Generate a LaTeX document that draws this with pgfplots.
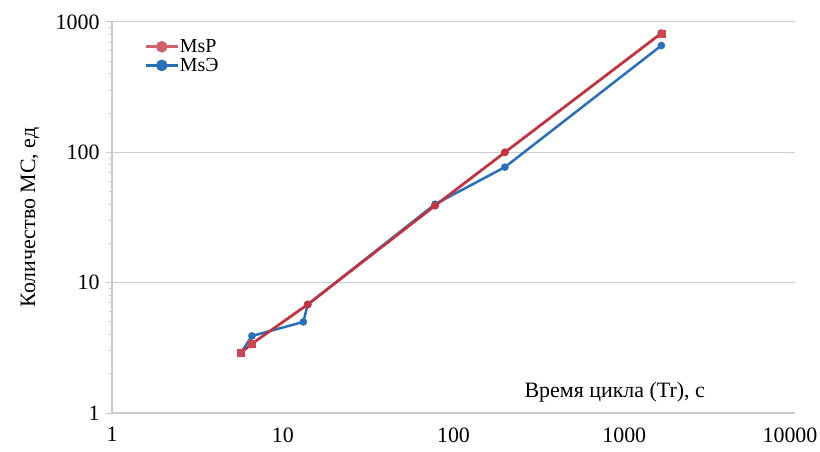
\documentclass[border=0pt]{standalone}
\usepackage{pgfplots}
\pgfplotsset{compat=1.18}
\usepackage{fontspec}
\setmainfont{Liberation Serif}
\definecolor{cred}{RGB}{200,48,60}
\definecolor{cpink}{RGB}{208,98,110}
\definecolor{cblue}{RGB}{40,112,185}
\definecolor{cgrid}{RGB}{200,203,210}
\begin{document}
\begin{tikzpicture}
\useasboundingbox (0,0) rectangle (820bp,452bp);
\begin{axis}[
  at={(112bp,39bp)}, anchor=south west,
  scale only axis, width=683bp, height=391bp,
  xmode=log, ymode=log,
  xmin=1, xmax=10000, ymin=1, ymax=1000,
  xtick={1,10,100,1000,10000}, xticklabels={1,10,100,1000,{10000\hspace*{10bp}}},
  ytick={1,10,100,1000}, yticklabels={1,10,100,1000},
  minor tick num=0, minor xtick={}, minor ytick={},
  axis x line*=bottom, axis y line*=left,
  axis line style={cgrid, line width=1.2bp, -},
  x axis line style={-}, y axis line style={-},
  ymajorgrids, major grid style={cgrid, line width=1bp},
  major tick length=6bp,
  xtick style={draw=none},
  ytick style={cgrid, line width=1bp},
  tick align=outside,
  font=\fontsize{22}{24}\selectfont,
  tick label style={font=\fontsize{22}{24}\selectfont},
  yticklabel style={xshift=-3bp},
  xticklabel style={yshift=-5bp},
  xlabel={Время цикла (Tr), с},
  ylabel={Количество МС, ед},
  every axis x label/.style={at={(axis description cs:0.736,0.052)}, anchor=center, font=\fontsize{22}{24}\selectfont},
  every axis y label/.style={at={(axis description cs:-0.12,0.5)}, rotate=90, anchor=center, font=\fontsize{22}{24}\selectfont},
  legend style={at={(axis description cs:0.047,0.957)}, anchor=north west, draw=none, fill=none,
    font=\fontsize{20}{20}\selectfont, row sep=3bp, inner sep=0bp,
    nodes={inner sep=0.5bp}},
  legend image code/.code={
    \draw[#1, mark=none, line width=3bp] (0cm,0cm) -- (32bp,0cm);
    \fill[#1] (16bp,0cm) circle (4.5bp);
  },
  legend cell align=left,
]
\addplot[cpink, line width=2.5bp, mark=*, mark size=2.5bp, mark options={fill=cred, draw=cred}] coordinates {
  (5.7,2.9) (6.6,3.4) (14,6.8) (78,39) (200,100) (1650,820)
};
\addlegendentry{MsP}
\addplot[cblue, line width=2.5bp, mark=*, mark size=2.5bp, mark options={fill=cblue, draw=cblue}] coordinates {
  (5.7,2.9) (6.6,3.9) (13.2,5.0) (14,6.8) (78,40) (200,77) (1650,660)
};
\addlegendentry{MsЭ}
\addplot[cred, line width=2.5bp, forget plot, mark=*, mark size=2.5bp, mark options={fill=cred, draw=cred}] coordinates {
  (5.7,2.9) (6.6,3.4) (14,6.8) (78,39) (200,100) (1650,820)
};
\addplot[only marks, forget plot, mark=square*, mark size=3.5bp, mark options={fill=cred!90!white, draw=cred!90!white}] coordinates {
  (5.7,2.9) (6.6,3.4) (1650,820)
};
\end{axis}
\end{tikzpicture}
\end{document}
